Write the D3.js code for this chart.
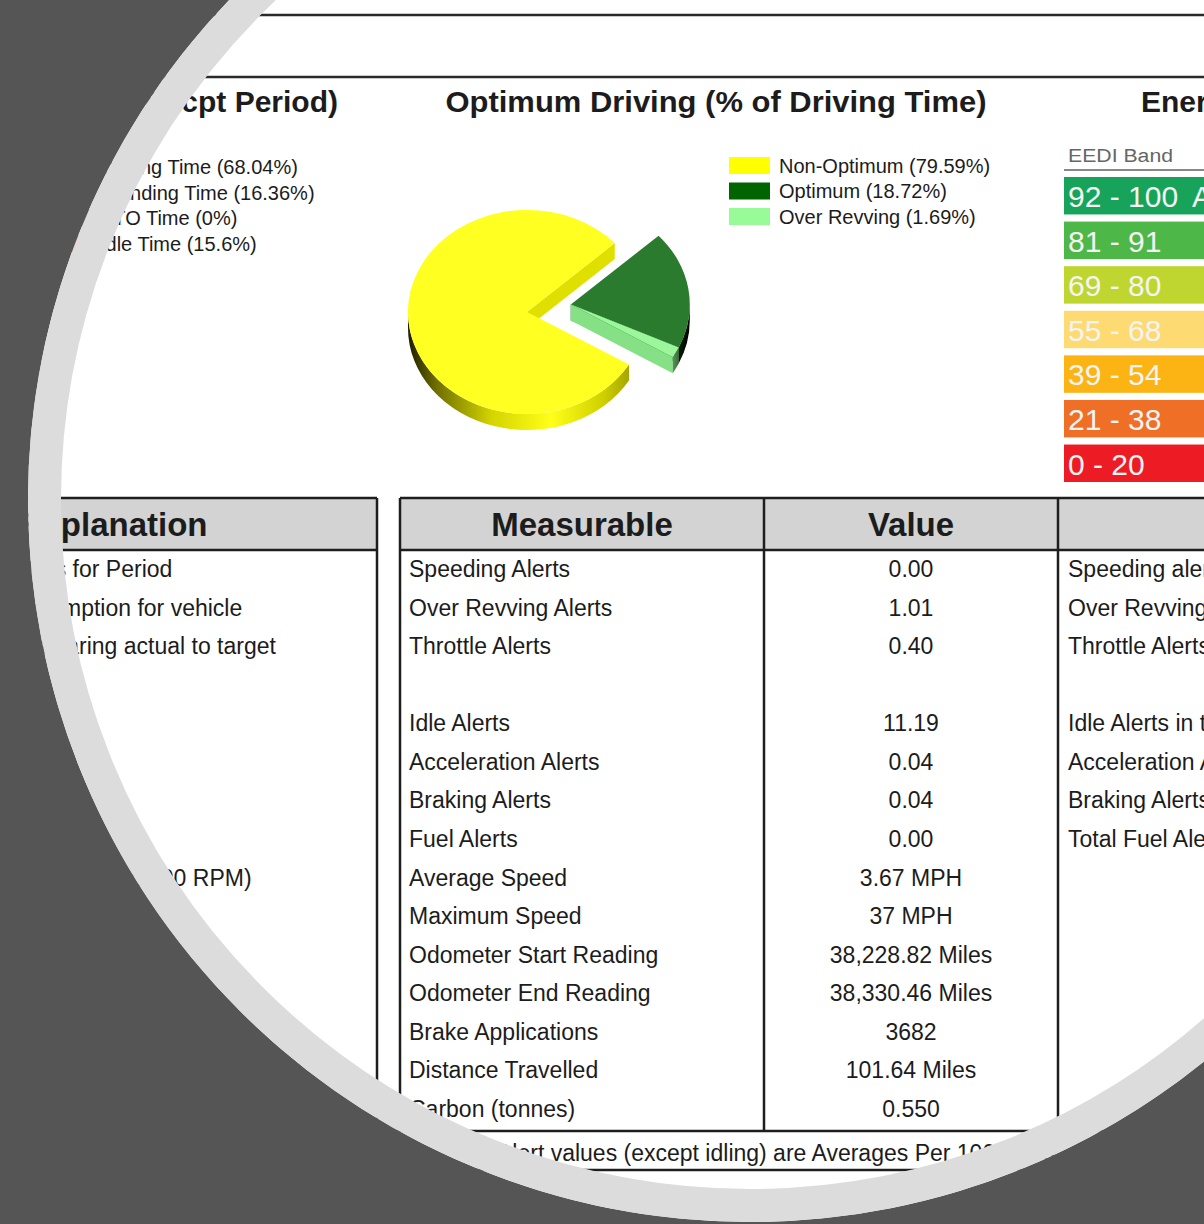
<!DOCTYPE html>
<html><head><meta charset="utf-8">
<script src="https://cdn.jsdelivr.net/npm/d3@7"></script>
<style>html,body{margin:0;padding:0;background:#fff;overflow:hidden}svg{display:block}</style>
</head><body>
<script>
// ---------------- data ----------------
const timeLabels = ["Driving Time", "Standing Time", "PTO Time", "Idle Time"];
const timeValues = [68.04, 16.36, 0, 15.6];
const pieLabels = ["Non-Optimum", "Optimum", "Over Revving"];
const pieValues = [79.59, 18.72, 1.69];
const pieColors = ["#ffff00", "#006400", "#98fb98"];
const eediBands = ["92 - 100", "81 - 91", "69 - 80", "55 - 68", "39 - 54", "21 - 38", "0 - 20"];
const eediLetters = ["A", "B", "C", "D", "E", "F", "G"];
const eediColors = ["#17a45a", "#4db848", "#bfd631", "#fedb72", "#fcb415", "#ef6f27", "#ed1c24"];
const measurables = ["Speeding Alerts", "Over Revving Alerts", "Throttle Alerts", "", "Idle Alerts",
  "Acceleration Alerts", "Braking Alerts", "Fuel Alerts", "Average Speed", "Maximum Speed",
  "Odometer Start Reading", "Odometer End Reading", "Brake Applications", "Distance Travelled", "Carbon (tonnes)"];
const values = ["0.00", "1.01", "0.40", "", "11.19", "0.04", "0.04", "0.00", "3.67 MPH", "37 MPH",
  "38,228.82 Miles", "38,330.46 Miles", "3682", "101.64 Miles", "0.550"];
const alertExplanations = ["Speeding alerts per 100 miles", "Over Revving alerts per 100 miles",
  "Throttle Alerts per 100 miles", "", "Idle Alerts in total", "Acceleration Alerts per 100 miles",
  "Braking Alerts per 100 miles", "Total Fuel Alerts per 100 miles", "", "", "", "", "", "", ""];
const leftExplanations = ["Total Litres for Period", "Avg consumption for vehicle",
  "Rate comparing actual to target", "", "", "", "", "", "Over Revving (>=1500 RPM)", "", "", "", "", "", ""];
const footNote = "Alert values (except idling) are Averages Per 100 Miles";

// ---------------- setup ----------------
const W = 1204, H = 1224;
const FONT = "'Liberation Sans', Arial, sans-serif";
const INK = "#1c1c1c";
const svg = d3.select("body").append("svg").attr("width", W).attr("height", H)
  .style("font-family", FONT);
svg.append("rect").attr("width", W).attr("height", H).attr("fill", "#fff");
const defs = svg.append("defs");

// top rules
[15, 77].forEach(y => {
  svg.append("line").attr("x1", 0).attr("x2", W).attr("y1", y).attr("y2", y)
    .attr("stroke", "#2a2a2a").attr("stroke-width", 2.5);
});

// section titles
svg.append("text").attr("x", 338).attr("y", 112).attr("text-anchor", "end")
  .attr("font-size", 30).attr("font-weight", "bold").attr("fill", INK)
  .text("Driving Time Analysis (Excl. Excpt Period)");
svg.append("text").attr("x", 716).attr("y", 112).attr("text-anchor", "middle")
  .attr("font-size", 30).attr("font-weight", "bold").attr("fill", INK)
  .attr("textLength", 541).attr("lengthAdjust", "spacingAndGlyphs")
  .text("Optimum Driving (% of Driving Time)");
svg.append("text").attr("x", 1141).attr("y", 112)
  .attr("font-size", 30).attr("font-weight", "bold").attr("fill", INK)
  .text("Energy Efficiency (EEDI)");

// ---------------- left time legend ----------------
const legY = d3.scalePoint().domain(d3.range(4)).range([167, 244]);
const timeColors = ["#0000cd", "#ff8c00", "#808080", "#ff0000"];
timeLabels.forEach((l, i) => {
  svg.append("rect").attr("x", 50).attr("y", legY(i) - 9).attr("width", 40).attr("height", 17)
    .attr("fill", timeColors[i]);
  svg.append("text").attr("x", 100).attr("y", legY(i) + 7).attr("font-size", 20).attr("fill", INK)
    .text(`${l} (${timeValues[i]}%)`);
});

// ---------------- optimum pie legend ----------------
const legY2 = d3.scalePoint().domain(d3.range(3)).range([165.5, 216.5]);
pieLabels.forEach((l, i) => {
  svg.append("rect").attr("x", 729).attr("y", legY2(i) - 8.5).attr("width", 41).attr("height", 17)
    .attr("fill", pieColors[i]);
  svg.append("text").attr("x", 779).attr("y", legY2(i) + 7).attr("font-size", 20).attr("fill", INK)
    .text(`${l} (${pieValues[i]}%)`);
});

// ---------------- 3D pie ----------------
const pc = { x: 527, y: 312, rx: 119, ry: 102, h: 16, explode: 44 };
const rad = d => d * Math.PI / 180;
const arcs = d3.pie().sort(null).startAngle(rad(121)).endAngle(rad(481))(pieValues);
const shades = [
  { top: "#ffff22", wall: "#e0e000", side: "gradY" },
  { top: "#2b7b2f", wall: "#005f00", side: "gradG" },
  { top: "#9cf79c", wall: "#86e086", side: "gradL" }
];
function grad(id, x1, x2, stops) {
  const g = defs.append("linearGradient").attr("id", id).attr("gradientUnits", "userSpaceOnUse")
    .attr("x1", x1).attr("x2", x2).attr("y1", 0).attr("y2", 0);
  stops.forEach(s => g.append("stop").attr("offset", s[0]).attr("stop-color", s[1]));
}
grad("gradY", pc.x - pc.rx, pc.x + pc.rx, [[0, "#1e1e00"], [0.12, "#6f6f00"], [0.35, "#d4d400"], [0.6, "#ffff18"], [0.82, "#d0d000"], [1, "#8a8a00"]]);
grad("gradG", pc.x + pc.explode, pc.x + pc.explode + pc.rx, [[0, "#0f5a12"], [0.8, "#0a3a0a"], [1, "#000"]]);
grad("gradL", pc.x + pc.explode, pc.x + pc.explode + pc.rx, [[0, "#7fd07f"], [0.85, "#5a9a5a"], [1, "#111"]]);

const gm = (arcs[1].startAngle + arcs[2].endAngle) / 2 - Math.PI / 2;
const pieG = svg.append("g");
arcs.forEach((a, i) => {
  const t0 = a.startAngle - Math.PI / 2, t1 = a.endAngle - Math.PI / 2;
  const cx = pc.x + (i === 0 ? 0 : pc.explode * Math.cos(gm));
  const cy = pc.y + (i === 0 ? 0 : pc.explode * Math.sin(gm) - 3);
  const P = (t, dy = 0) => [cx + pc.rx * Math.cos(t), cy + pc.ry * Math.sin(t) + dy];
  const s = shades[i], h = pc.h;
  // radial walls
  if (Math.cos(t1) > 0) {
    const p = P(t1), q = P(t1, h);
    pieG.append("path").attr("d", `M${cx},${cy}L${p}L${q}L${cx},${cy + h}Z`).attr("fill", s.wall);
  }
  if (Math.cos(t0) < 0) {
    const p = P(t0), q = P(t0, h);
    pieG.append("path").attr("d", `M${cx},${cy}L${p}L${q}L${cx},${cy + h}Z`).attr("fill", s.wall);
  }
  // outer visible side
  for (let k = -1; k <= 2; k++) {
    const b0 = Math.max(t0, 2 * Math.PI * k), b1 = Math.min(t1, 2 * Math.PI * k + Math.PI);
    if (b1 > b0) {
      const p0 = P(b0), p1 = P(b1), q1 = P(b1, h), q0 = P(b0, h);
      pieG.append("path")
        .attr("d", `M${p0}A${pc.rx},${pc.ry} 0 0 1 ${p1}L${q1}A${pc.rx},${pc.ry} 0 0 0 ${q0}Z`)
        .attr("fill", `url(#${s.side})`);
    }
  }
  // top face
  const large = (t1 - t0) > Math.PI ? 1 : 0;
  pieG.append("path")
    .attr("d", `M${cx},${cy}L${P(t0)}A${pc.rx},${pc.ry} 0 ${large} 1 ${P(t1)}Z`)
    .attr("fill", s.top);
});

// ---------------- EEDI bands ----------------
svg.append("text").attr("x", 1068).attr("y", 162).attr("font-size", 18).attr("fill", "#666")
  .attr("textLength", 105).attr("lengthAdjust", "spacingAndGlyphs").text("EEDI Band");
svg.append("line").attr("x1", 1064).attr("x2", W).attr("y1", 170).attr("y2", 170)
  .attr("stroke", "#888").attr("stroke-width", 2);
const bandY = d3.scaleBand().domain(eediBands).range([177, 482]).paddingInner(0.16);
eediBands.forEach((b, i) => {
  const y = bandY(b);
  svg.append("rect").attr("x", 1064).attr("y", y).attr("width", 160 + 22 * i)
    .attr("height", bandY.bandwidth()).attr("fill", eediColors[i]);
  svg.append("text").attr("x", 1068).attr("y", y + 30).attr("font-size", 30).attr("fill", "#f4f4f4").text(b);
  svg.append("text").attr("x", 1192 + 22 * i).attr("y", y + 30).attr("font-size", 30)
    .attr("fill", "#f4f4f4").text(eediLetters[i]);
});

// ---------------- tables ----------------
const tTop = 498, tHead = 550, tBot = 1131, fBot = 1170;
const rowY = d3.scalePoint().domain(d3.range(measurables.length)).range([569, 1109]);
const LINE = "#1e1e1e";
// header fills
svg.append("rect").attr("x", -10).attr("y", tTop).attr("width", 387).attr("height", tHead - tTop).attr("fill", "#d3d3d3");
svg.append("rect").attr("x", 400).attr("y", tTop).attr("width", W).attr("height", tHead - tTop).attr("fill", "#d3d3d3");
// horizontal lines
[[-10, 377, tTop], [-10, 377, tHead], [400, W, tTop], [400, W, tHead], [-10, W, tBot], [-10, W, fBot]].forEach(d => {
  svg.append("line").attr("x1", d[0]).attr("x2", d[1]).attr("y1", d[2]).attr("y2", d[2])
    .attr("stroke", LINE).attr("stroke-width", 2.5);
});
// vertical lines
[377, 400, 764, 1058].forEach(x => {
  svg.append("line").attr("x1", x).attr("x2", x).attr("y1", tTop).attr("y2", tBot)
    .attr("stroke", LINE).attr("stroke-width", 2.5);
});
// headers
const hdr = (x, t) => svg.append("text").attr("x", x).attr("y", 536).attr("text-anchor", "middle")
  .attr("font-size", 33).attr("font-weight", "bold").attr("fill", INK).text(t);
hdr(114, "Explanation");
hdr(582, "Measurable");
hdr(911, "Value");
// body
measurables.forEach((m, i) => {
  const y = rowY(i) + 8;
  svg.append("text").attr("x", -45).attr("y", y).attr("font-size", 23).attr("fill", INK).text(leftExplanations[i]);
  svg.append("text").attr("x", 409).attr("y", y).attr("font-size", 23).attr("fill", INK).text(m);
  svg.append("text").attr("x", 911).attr("y", y).attr("text-anchor", "middle").attr("font-size", 23).attr("fill", INK).text(values[i]);
  svg.append("text").attr("x", 1068).attr("y", y).attr("font-size", 23).attr("fill", INK).text(alertExplanations[i]);
});
svg.append("text").attr("x", 497).attr("y", 1161).attr("font-size", 23).attr("fill", INK).text(footNote);

// ---------------- circular frame ----------------
const C = { x: 750, y: 500 }, rIn = 689, rOut = 722;
svg.append("path")
  .attr("d", `M0,0H${W}V${H}H0Z M${C.x - rOut},${C.y}a${rOut},${rOut} 0 1,0 ${2 * rOut},0a${rOut},${rOut} 0 1,0 ${-2 * rOut},0Z`)
  .attr("fill-rule", "evenodd").attr("fill", "#555555");
svg.append("circle").attr("cx", C.x).attr("cy", C.y).attr("r", (rIn + rOut) / 2)
  .attr("fill", "none").attr("stroke", "#dcdcdc").attr("stroke-width", rOut - rIn);
</script>
</body></html>
